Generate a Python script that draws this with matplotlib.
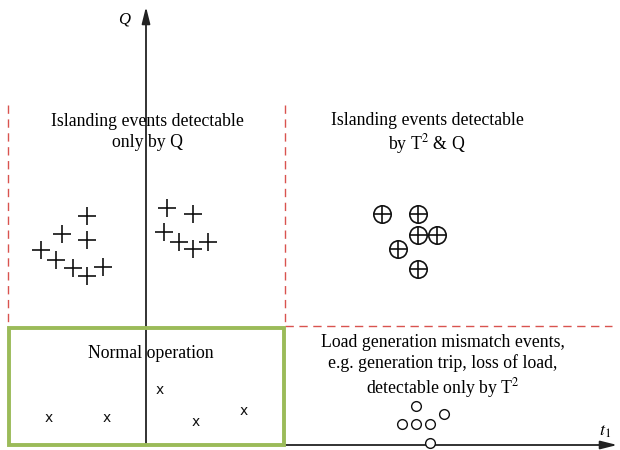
import matplotlib
matplotlib.use("Agg")
import matplotlib.pyplot as plt

plt.rcParams['font.family'] = ['Liberation Serif', 'DejaVu Serif']
plt.rcParams['mathtext.fontset'] = 'stix'

# Data (in chart pixel-like units: x to the right, y downward)
plus_x = [87, 62, 87, 41, 56, 73, 87, 103, 167, 193, 164, 179, 193, 208]
plus_y = [216, 234, 240, 250, 260, 268, 276, 267, 208, 214, 232, 242, 249, 242]

oplus_x = [382, 418, 418, 437, 398, 418]
oplus_y = [214, 214, 235, 235, 249, 269]

circ_x = [416, 444, 402, 416, 430, 430]
circ_y = [406, 414, 424, 424, 424, 443]

xm_x = [49, 107, 160, 196, 244]
xm_y = [418, 418, 390, 422, 411]

fig = plt.figure(figsize=(6.2, 4.5), dpi=100)
ax = fig.add_axes([0, 0, 1, 1])
ax.set_xlim(0, 620)
ax.set_ylim(450, 0)
ax.axis('off')

# axes arrows
ax.annotate('', xy=(146, 4), xytext=(146, 446),
            arrowprops=dict(arrowstyle='-|>,head_width=0.25,head_length=1.0', color='#222222', lw=1.3))
ax.annotate('', xy=(620, 445), xytext=(10, 445),
            arrowprops=dict(arrowstyle='-|>,head_width=0.25,head_length=1.0', color='#222222', lw=1.3))

# red dashed lines
red = '#d9534f'
ax.plot([8, 8], [105, 330], ls=(0, (6, 4)), color=red, lw=1)
ax.plot([285, 285], [105, 326], ls=(0, (6, 4)), color=red, lw=1)
ax.plot([285, 612], [326, 326], ls=(0, (6, 4)), color=red, lw=1)

# green box
ax.add_patch(plt.Rectangle((9, 328), 275, 117, fill=False, ec='#9bbb59', lw=2.8, zorder=3))

# markers
ax.plot(plus_x, plus_y, ls='none', marker='+', ms=13, mew=1.2, color='#111111')
ax.plot(oplus_x, oplus_y, ls='none', marker='o', ms=12.5, mfc='white', mec='#111111', mew=1.2)
ax.plot(oplus_x, oplus_y, ls='none', marker='+', ms=12.5, mew=1.2, color='#111111')
ax.plot(circ_x, circ_y, ls='none', marker='o', ms=7, mfc='white', mec='#111111', mew=1.0, zorder=4)
for x, y in zip(xm_x, xm_y):
    ax.text(x, y, 'x', ha='center', va='center', fontsize=10, family='DejaVu Sans', color='#111111')

fs = 12.8
ax.text(147, 132, 'Islanding events detectable\nonly by Q', ha='center', va='center', fontsize=fs, linespacing=1.25)
ax.text(427, 134, 'Islanding events detectable\nby T$^{2}$ & Q', ha='center', va='center', fontsize=fs, linespacing=1.2)
ax.text(151, 353, 'Normal operation', ha='center', va='center', fontsize=fs)
ax.text(443, 367, 'Load generation mismatch events,\ne.g. generation trip, loss of load,\ndetectable only by T$^{2}$',
        ha='center', va='center', fontsize=fs, linespacing=1.25)
ax.text(124, 20, 'Q', ha='center', va='center', fontsize=12, style='italic')
ax.text(605, 431, '$t_1$', ha='center', va='center', fontsize=13)

fig.savefig('out.png', dpi=100)
